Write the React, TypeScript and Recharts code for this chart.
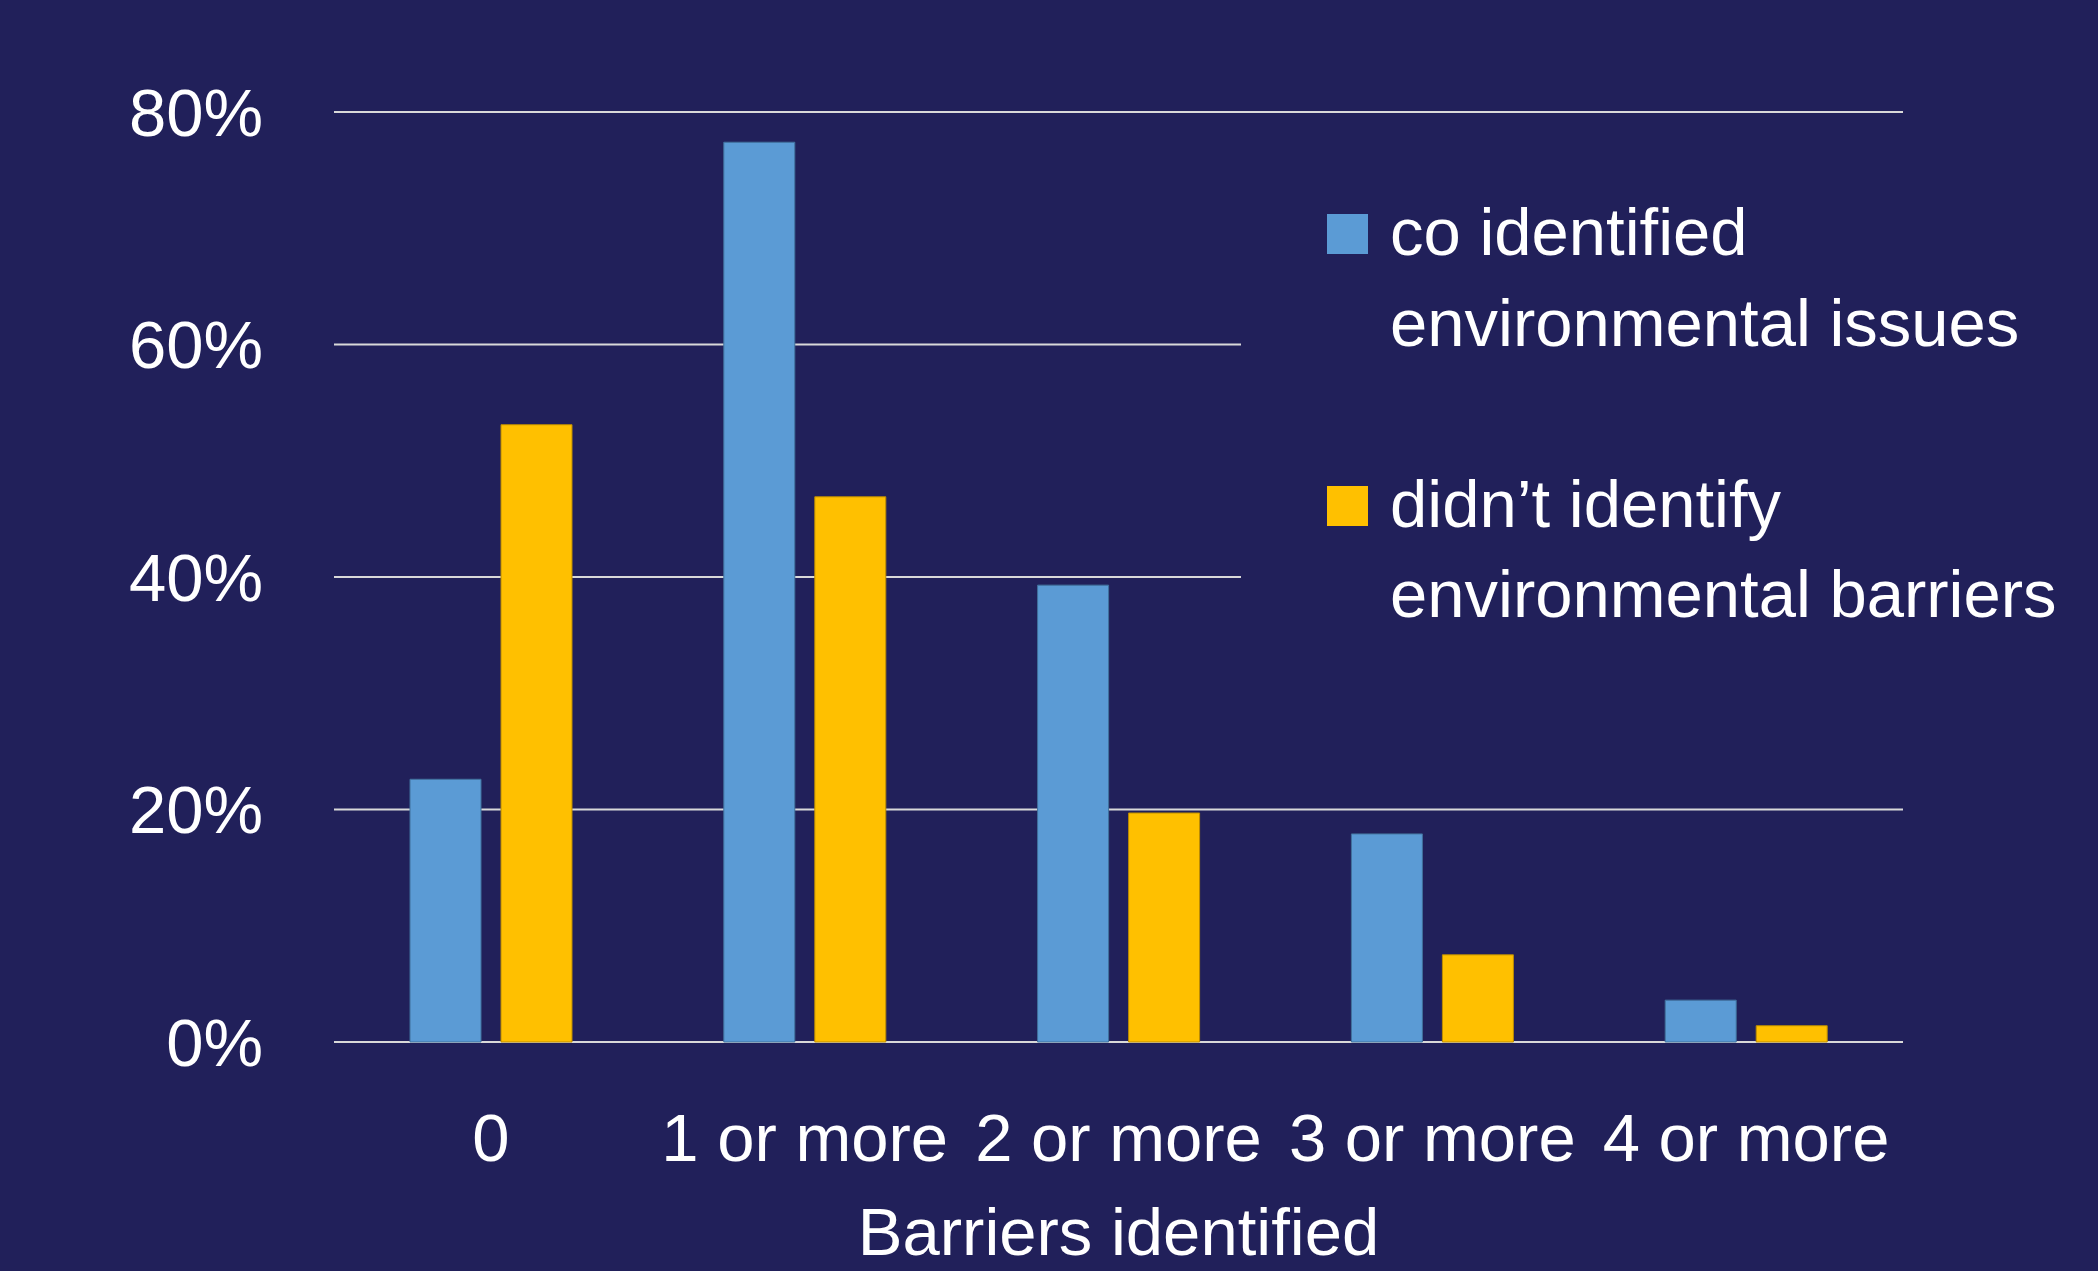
import { BarChart, Bar, XAxis, YAxis, CartesianGrid, Legend } from 'recharts';

const categories = ['0', '1 or more', '2 or more', '3 or more', '4 or more'];
const identifiedValues = [22.6, 77.4, 39.3, 17.9, 3.6];
const notIdentifiedValues = [53.1, 46.9, 19.7, 7.5, 1.4];
const yTicks = [0, 20, 40, 60, 80];

const identifiedName = 'co identified environmental issues';
const notIdentifiedName = 'didn\u2019t identify environmental barriers';
const legendLines: Record<string, string[]> = {
  [identifiedName]: ['co identified', 'environmental issues'],
  [notIdentifiedName]: ['didn\u2019t identify', 'environmental barriers'],
};

const data = categories.map((c, i) => ({
  name: c,
  identified: identifiedValues[i],
  notIdentified: notIdentifiedValues[i],
}));

const BG = '#21205A';
const FONT = "'Liberation Sans', Arial, sans-serif";
const LINE_H = 90.5;

function LegendBox({ payload }: any) {
  return (
    <div style={{ position: 'relative', width: '100%', height: '100%', background: BG, fontFamily: FONT, color: '#fff', fontSize: 67, lineHeight: `${LINE_H}px`, paddingTop: 37, boxSizing: 'border-box' }}>
      {(payload || []).map((entry: any, i: number) => (
        <div key={`item-${i}`} style={{ position: 'relative', paddingLeft: 149, marginBottom: i === 0 ? LINE_H : 0, whiteSpace: 'nowrap' }}>
          <span style={{ position: 'absolute', left: 86, top: 27, width: 41, height: 40, background: entry.color }} />
          {(legendLines[entry.value] || [entry.value]).map((line: string, j: number) => (
            <div key={j}>{line}</div>
          ))}
        </div>
      ))}
    </div>
  );
}

export default function App() {
  return (
    <div style={{ position: 'absolute', left: 0, top: 0, width: 2098, height: 1271, background: BG }}>
      <BarChart
        width={2098}
        height={1271}
        data={data}
        margin={{ top: 112, right: 195, left: 0, bottom: 0 }}
        barSize={71}
        barGap={20}
      >
        <CartesianGrid vertical={false} stroke="#D9D9D9" strokeWidth={2} />
        <XAxis
          dataKey="name"
          height={229}
          interval={0}
          axisLine={false}
          tickLine={false}
          tickSize={6}
          tickMargin={65}
          tick={{ fill: '#fff', fontSize: 67, fontFamily: FONT }}
          label={{ value: 'Barriers identified', position: 'insideBottom', offset: 16, fill: '#fff', fontSize: 67, fontFamily: FONT }}
        />
        <YAxis
          width={334}
          domain={[0, 80]}
          ticks={yTicks}
          axisLine={false}
          tickLine={false}
          tickSize={6}
          tickMargin={65}
          tickFormatter={(v: number) => `${v}%`}
          tick={{ fill: '#fff', fontSize: 67, fontFamily: FONT }}
        />
        <Legend
          layout="horizontal"
          verticalAlign="middle"
          align="center"
          content={<LegendBox />}
          wrapperStyle={{ position: 'absolute', left: 1241, top: 150, width: 857, height: 640 }}
        />
        <Bar dataKey="identified" name={identifiedName} fill="#5B9BD5" stroke="#41719C" strokeWidth={1} isAnimationActive={false} />
        <Bar dataKey="notIdentified" name={notIdentifiedName} fill="#FFC000" stroke="#BC8C00" strokeWidth={1} isAnimationActive={false} />
      </BarChart>
    </div>
  );
}
